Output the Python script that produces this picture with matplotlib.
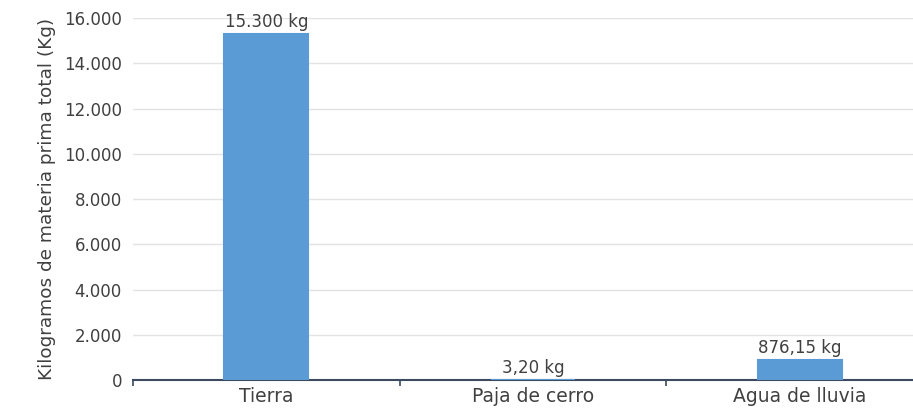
import matplotlib.pyplot as plt
from matplotlib.ticker import FuncFormatter, FixedLocator

categorias = ["Tierra", "Paja de cerro", "Agua de lluvia"]
kilos = [15300, 3.20, 876.15]
etiquetas = ["15.300 kg", "3,20 kg", "876,15 kg"]

plt.rcParams['font.family'] = ['DejaVu Sans']

fig = plt.figure(figsize=(9.13, 4.11), dpi=100)
ax = fig.add_axes([0.1457, 0.0754, 0.876, 0.8806])

x = range(len(categorias))
barras = ax.bar(x, kilos, width=0.315, color="#5b9bd5", zorder=3,
                edgecolor="#5b9bd5", linewidth=1.5)

for b, txt in zip(barras, etiquetas):
    ax.text(b.get_x() + b.get_width() / 2, b.get_height() + 130, txt,
            ha="center", va="bottom", fontsize=12, color="#404040")

ax.set_xlim(-0.5, 2.5)
ax.set_ylim(0, 16000)
ax.set_yticks(range(0, 16001, 2000))
ax.yaxis.set_major_formatter(FuncFormatter(lambda v, p: f"{int(v):,}".replace(",", ".")))
ax.grid(axis="y", color="#e3e3e3", lw=1, zorder=0)

ax.set_xticks(list(x))
ax.set_xticklabels(categorias)
ax.xaxis.set_minor_locator(FixedLocator([-0.5, 0.5, 1.5, 2.5]))
ax.tick_params(axis="x", which="major", length=0, labelsize=13.5, labelcolor="#404040", pad=5)
ax.tick_params(axis="x", which="minor", length=4, width=1.2, color="#3b4a5e", direction="out")
ax.tick_params(axis="y", length=0, labelsize=12, labelcolor="#404040", pad=8)

for s in ["top", "right", "left"]:
    ax.spines[s].set_visible(False)
ax.spines["bottom"].set_color("#3b4a5e")
ax.spines["bottom"].set_linewidth(1.5)
ax.spines["bottom"].set_zorder(2)

ax.set_ylabel("Kilogramos de materia prima total (Kg)", fontsize=13.3, color="#404040", labelpad=6)

fig.savefig("out.png", dpi=100)
